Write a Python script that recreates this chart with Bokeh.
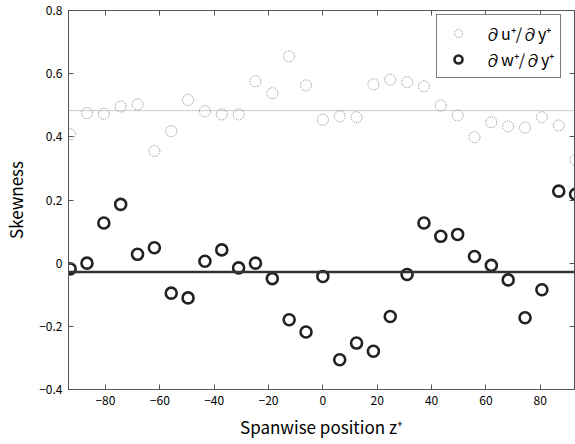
from bokeh.plotting import figure
from bokeh.models import FixedTicker, CustomJSTickFormatter, LinearAxis, Span, Legend, LegendItem
from bokeh.embed import file_html
from bokeh.resources import INLINE

# ---- data ----
z_plus = [-93.0, -86.8, -80.6, -74.4, -68.2, -62.0, -55.8, -49.6, -43.4, -37.2,
          -31.0, -24.8, -18.6, -12.4, -6.2, 0.0, 6.2, 12.4, 18.6, 24.8,
          31.0, 37.2, 43.4, 49.6, 55.8, 62.0, 68.2, 74.4, 80.6, 86.8, 93.0]
skew_dudy = [0.408, 0.475, 0.473, 0.496, 0.503, 0.355, 0.418, 0.517, 0.481, 0.471,
             0.471, 0.576, 0.538, 0.655, 0.563, 0.454, 0.465, 0.462, 0.566, 0.581,
             0.573, 0.560, 0.499, 0.468, 0.399, 0.446, 0.433, 0.429, 0.462, 0.436, 0.327]
skew_dwdy = [-0.018, 0.000, 0.127, 0.186, 0.028, 0.049, -0.095, -0.110, 0.006, 0.042,
             -0.015, 0.000, -0.049, -0.179, -0.218, -0.042, -0.306, -0.253, -0.279, -0.169,
             -0.036, 0.127, 0.085, 0.091, 0.021, -0.007, -0.053, -0.173, -0.084, 0.228, 0.218]
mean_dudy = 0.483
mean_dwdy = -0.028
x_ticks = [-80, -60, -40, -20, 0, 20, 40, 60, 80]
y_ticks = [-0.4, -0.2, 0, 0.2, 0.4, 0.6, 0.8]
label_u = "∂u⁺/∂y⁺"
label_w = "∂w⁺/∂y⁺"

FONT = "Noto Sans CJK JP"

p = figure(width=575, height=444, x_range=(-93.6, 92.6), y_range=(-0.4, 0.8),
           output_backend="svg", toolbar_location=None,
           min_border_left=64, min_border_right=1, min_border_top=10, min_border_bottom=55)
p.grid.visible = False
p.background_fill_color = "white"
p.border_fill_color = "white"
p.outline_line_color = "#555555"

fmt = CustomJSTickFormatter(code="""
    const v = Math.round(tick*10)/10;
    return v < 0 ? '\u2212' + String(-v) : String(v);
""")
blank = CustomJSTickFormatter(code="return '';")

bottom = p.below[0]
left = p.left[0]
bottom.ticker = FixedTicker(ticks=x_ticks)
bottom.formatter = fmt
left.ticker = FixedTicker(ticks=y_ticks)
left.formatter = fmt

top = LinearAxis(ticker=FixedTicker(ticks=x_ticks), formatter=blank, major_label_standoff=0)
right = LinearAxis(ticker=FixedTicker(ticks=y_ticks), formatter=blank, major_label_standoff=0)
p.add_layout(top, "above")
p.add_layout(right, "right")

for ax in (bottom, left, top, right):
    ax.major_tick_in = 5
    ax.major_tick_out = 0
    ax.minor_tick_in = 0
    ax.minor_tick_out = 0
    ax.axis_line_color = "#555555"
    ax.major_tick_line_color = "#555555"
    ax.major_label_text_font = FONT
    ax.major_label_text_color = "black"
    ax.major_label_text_font_size = "12px"
    ax.axis_label_text_font = FONT
    ax.axis_label_text_font_style = "normal"
    ax.axis_label_text_color = "black"

bottom.major_label_standoff = 6
left.major_label_standoff = 6
bottom.axis_label = "Spanwise position z⁺"
left.axis_label = "Skewness"
bottom.axis_label_text_font_size = "17px"
left.axis_label_text_font_size = "17px"
bottom.axis_label_standoff = 6
left.axis_label_standoff = 8

p.add_layout(Span(location=mean_dudy, dimension="width", line_color="#999999",
                  line_width=1, line_dash="1 1"))
p.add_layout(Span(location=mean_dwdy, dimension="width", line_color="#333333",
                  line_width=2.5))

r_u = p.scatter(z_plus, skew_dudy, marker="circle", size=11, fill_color=None,
                line_color="#8a8a8a", line_width=1, line_dash="1 1")
r_w = p.scatter(z_plus, skew_dwdy, marker="circle", size=11, fill_color=None,
                line_color="#222222", line_width=2.6)

legend = Legend(items=[LegendItem(label=label_u, renderers=[r_u]),
                       LegendItem(label=label_w, renderers=[r_w])],
                location=(368, 311))
legend.label_text_font = FONT
legend.label_text_font_size = "16px"
legend.label_text_color = "black"
legend.border_line_color = "black"
legend.border_line_width = 1
legend.background_fill_color = "white"
legend.background_fill_alpha = 1
legend.padding = 6
legend.spacing = 2
legend.glyph_width = 30
legend.label_standoff = 12
legend.margin = 0
p.add_layout(legend)

open("out.html", "w").write(file_html(p, INLINE))
